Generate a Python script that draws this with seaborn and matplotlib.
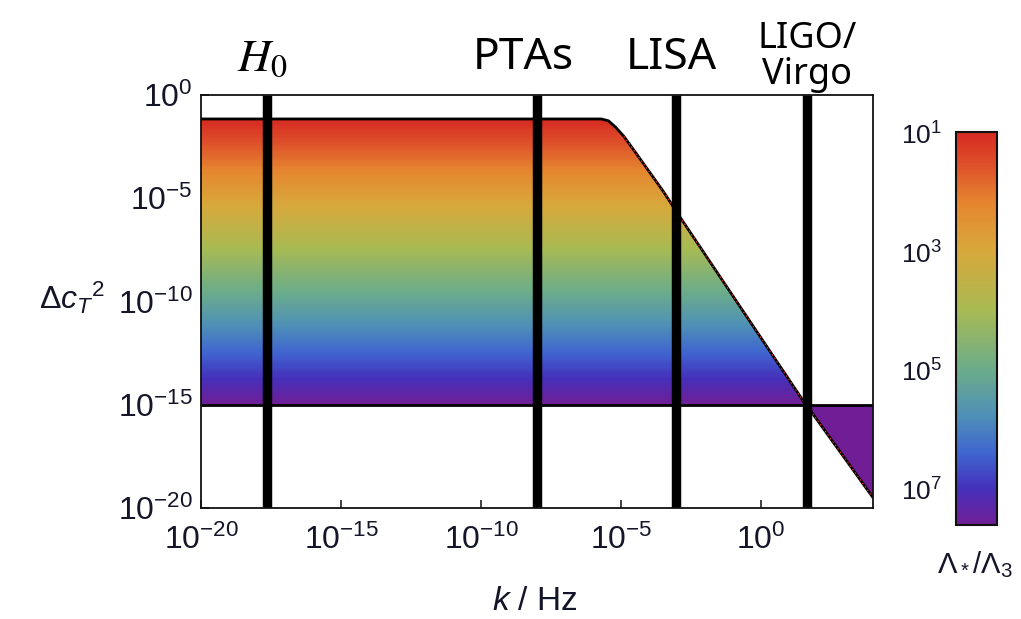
import numpy as np
import pandas as pd
import matplotlib
matplotlib.use("Agg")
import matplotlib.pyplot as plt
import matplotlib.transforms as mtransforms
from matplotlib.colors import LinearSegmentedColormap, LogNorm
from matplotlib.patches import Polygon
from matplotlib.cm import ScalarMappable
from matplotlib.ticker import NullLocator
import seaborn as sns

# ---------------------------------------------------------------- data
# gravitational-wave probes and the frequency (log10 k / Hz) each one tests
probe_names = [r"$H_0$", "PTAs", "LISA", "LIGO/\nVirgo"]
probe_log_k = [-17.65, -8.0, -3.05, 1.65]

# upper edge of the allowed region: log10 k  vs  log10 Δc_T^2
edge_log_k = [-20.0, -5.7, -5.45, -5.2, -4.9, -4.5, -4.0, -3.5, -2.9, 1.5, 1.8, 4.0]
edge_log_dc2 = [-1.16, -1.16, -1.25, -1.55, -2.0, -2.75, -3.7, -4.65, -5.9, -14.8, -15.35, -19.5]

# lower bound on Δc_T^2
floor_log_dc2 = -15.0

# Δc_T^2 range mapped onto the Λ*/Λ3 colour scale (log10)
dc2_log_span = [-1.16, -15.0]
ratio_log_span = [0.97, 7.6]

x_tick_exp = [-20, -15, -10, -5, 0]
y_tick_exp = [0, -5, -10, -15, -20]
cbar_tick_exp = [1, 3, 5, 7]

# ---------------------------------------------------------------- style
sns.set_theme(style="ticks")
plt.rcParams["font.family"] = ["Liberation Sans", "DejaVu Sans"]
plt.rcParams["mathtext.fontset"] = "custom"
plt.rcParams["mathtext.rm"] = "Liberation Sans"
plt.rcParams["mathtext.it"] = "Liberation Sans:italic"
plt.rcParams["mathtext.bf"] = "Liberation Sans:bold"
plt.rcParams["axes.linewidth"] = 1.3
plt.rcParams["axes.edgecolor"] = "#111111"

ink = "#15152a"

# Mathematica-like rainbow, low Λ*/Λ3 (red) to high (purple)
rainbow = LinearSegmentedColormap.from_list(
    "rainbow_mma",
    [(0.00, "#d62a22"), (0.08, "#de4f2a"), (0.18, "#e5862f"), (0.30, "#d8a83b"),
     (0.45, "#a9ba52"), (0.60, "#6dad88"), (0.72, "#4f91b6"), (0.82, "#3f64d0"),
     (0.91, "#4530ba"), (1.00, "#701e96")])
norm = LogNorm(vmin=10 ** ratio_log_span[0], vmax=10 ** ratio_log_span[1])

fig = plt.figure(figsize=(10.21, 6.19), dpi=100)
ax = fig.add_axes([0.1969, 0.1793, 0.6582, 0.6672])
ax.set_xscale("log")
ax.set_yscale("log")
ax.set_xlim(1e-20, 1e4)
ax.set_ylim(1e-20, 1e0)

# ---------------------------------------------------------------- colour field
dc2_edges = np.logspace(-20, 0, 1201)
dc2_mid = np.sqrt(dc2_edges[:-1] * dc2_edges[1:])
frac = (np.log10(dc2_mid) - dc2_log_span[0]) / (dc2_log_span[1] - dc2_log_span[0])
ratio = 10 ** (ratio_log_span[0] + frac * (ratio_log_span[1] - ratio_log_span[0]))
k_edges = np.array([1e-20, 1e4])
mesh = ax.pcolormesh(k_edges, dc2_edges, ratio[:, None], cmap=rainbow, norm=norm,
                     shading="flat", rasterized=True, zorder=1)

edge_k = 10.0 ** np.array(edge_log_k)
edge_dc2 = 10.0 ** np.array(edge_log_dc2)
floor = 10.0 ** floor_log_dc2
region = list(zip(edge_k, edge_dc2)) + [(edge_k[-1], floor), (edge_k[0], floor)]
clip = Polygon(region, closed=True, transform=ax.transData,
               facecolor="none", edgecolor="none")
ax.add_patch(clip)
mesh.set_clip_path(clip)

# boundary of the region
edge_df = pd.DataFrame({"k": edge_k, "dc2": edge_dc2})
sns.lineplot(data=edge_df, x="k", y="dc2", ax=ax, color="black", lw=2.0,
             estimator=None, sort=False, zorder=3)
sns.lineplot(data=edge_df[edge_df["k"] > 1e-5], x="k", y="dc2", ax=ax,
             color="#e0301e", lw=0.9, estimator=None, sort=False,
             zorder=4, linestyle=(0, (1.2, 2.2)))
ax.axhline(floor, color="black", lw=2.0, zorder=3)
ax.set_xlabel("")
ax.set_ylabel("")

# probe frequencies
top = mtransforms.blended_transform_factory(ax.transData, ax.transAxes)
label_style = [
    dict(dx=-3, dy=17, fontsize=33, math_fontfamily="stix"),
    dict(dx=-10, dy=19, fontsize=32, family="Noto Sans"),
    dict(dx=-3, dy=19, fontsize=32, family="Noto Sans"),
    dict(dx=0, dy=8, fontsize=26, family="Noto Sans", linespacing=1.0),
]
for name, lk, st in zip(probe_names, probe_log_k, label_style):
    ax.axvline(10 ** lk, color="black", lw=6.8, zorder=5, solid_capstyle="butt")
    st = dict(st)
    dx, dy = st.pop("dx"), st.pop("dy")
    ax.annotate(name, xy=(10 ** lk, 1.0), xycoords=top,
                xytext=(dx, dy), textcoords="offset points",
                ha="center", va="baseline", color="black",
                annotation_clip=False, **st)

# ---------------------------------------------------------------- axes
ax.set_xticks([10.0 ** e for e in x_tick_exp])
ax.set_yticks([10.0 ** e for e in y_tick_exp])
ax.xaxis.set_minor_locator(NullLocator())
ax.yaxis.set_minor_locator(NullLocator())
ax.tick_params(direction="in", length=6, width=1.1, labelsize=23,
               labelcolor=ink, color="#111111")
ax.tick_params(axis="x", pad=12)
ax.tick_params(axis="y", pad=6)
for s in ax.spines.values():
    s.set_zorder(6)

fig.text(72 / 1021, 1 - 298 / 619, r"$\Delta c_T{}^2$", ha="center", va="center",
         fontsize=23, color=ink)
fig.text(535 / 1021, 1 - 602 / 619, r"$k$ / Hz", ha="center", va="center",
         fontsize=24, color=ink)

# ---------------------------------------------------------------- colour bar
cax = fig.add_axes([0.9363, 0.1519, 0.0402, 0.6349])
sm = ScalarMappable(norm=norm, cmap=rainbow)
cb = fig.colorbar(sm, cax=cax)
cax.invert_yaxis()
cb.set_ticks([10.0 ** e for e in cbar_tick_exp])
cax.yaxis.set_minor_locator(NullLocator())
cax.yaxis.set_ticks_position("left")
cax.yaxis.set_label_position("left")
cax.tick_params(direction="in", length=5, width=1.2, labelsize=19,
                labelcolor=ink, pad=10)
cb.outline.set_linewidth(1.5)
cb.outline.set_edgecolor("#111111")
fig.text(975 / 1021, 1 - 565 / 619, r"$\Lambda_*/\Lambda_3$", ha="center",
         va="center", fontsize=21, color=ink)

fig.savefig("out.png", dpi=100)
